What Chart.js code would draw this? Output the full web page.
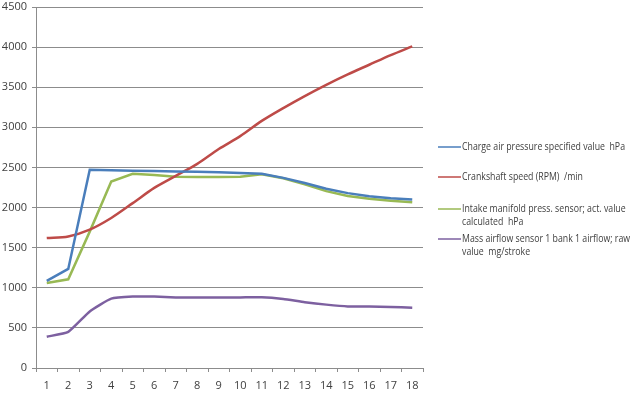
<!DOCTYPE html>
<html>
<head>
<meta charset="utf-8">
<script src="https://cdn.jsdelivr.net/npm/chart.js@4"></script>
<style>
    body { margin: 0; background: #fff; }
    #chart { display: block; }
</style>
</head>
<body>
<canvas id="chart" width="640" height="397"></canvas>
<script>
// chart data
const categories = ['1','2','3','4','5','6','7','8','9','10','11','12','13','14','15','16','17','18'];

const chargeAirSpecified = [1085, 1235, 2470, 2465, 2460, 2455, 2450, 2445, 2440, 2430, 2420, 2370, 2305, 2235, 2180, 2140, 2115, 2100];
const crankshaftSpeed = [1620, 1640, 1725, 1870, 2055, 2245, 2395, 2545, 2730, 2890, 3080, 3240, 3390, 3530, 3660, 3780, 3900, 4010];
const intakeManifold = [1060, 1105, 1700, 2325, 2420, 2405, 2385, 2380, 2380, 2385, 2415, 2365, 2290, 2205, 2145, 2110, 2085, 2065];
const massAirflow = [390, 450, 705, 865, 890, 890, 880, 880, 880, 880, 882, 860, 820, 790, 768, 768, 760, 752];

const yTicks = [0, 500, 1000, 1500, 2000, 2500, 3000, 3500, 4000, 4500];

const seriesLabels = [
    ['Charge air pressure specified value  hPa'],
    ['Crankshaft speed (RPM)  /min'],
    ['Intake manifold press. sensor; act. value', 'calculated  hPa'],
    ['Mass airflow sensor 1 bank 1 airflow; raw', 'value  mg/stroke']
];
const seriesColors = ['#4a7ebb', '#be4b48', '#98b954', '#7d60a0'];
const seriesTension = [0, 0.3, 0, 0.15];

const FAMILY = "'Open Sans', 'Liberation Sans', sans-serif";
const FONT = "11px " + FAMILY;
const TEXT_COLOR = '#404040';
const GRID_COLOR = '#8c8c8c';

// legend drawn on the right, Excel style with wrapped labels
const sideLegend = {
    id: 'sideLegend',
    afterDraw(chart) {
        const ctx = chart.ctx;
        const rowsY = [147, 177, 209, 239];
        ctx.save();
        ctx.font = FONT;
        ctx.textBaseline = 'middle';
        ctx.fillStyle = TEXT_COLOR;
        // squeeze text a bit, the original font is narrower
        const squeeze = 163 / ctx.measureText(chart.data.datasets[0].label[0]).width;
        chart.data.datasets.forEach((ds, i) => {
            const y = rowsY[i];
            ctx.strokeStyle = ds.borderColor;
            ctx.lineWidth = 1.5;
            ctx.beginPath();
            ctx.moveTo(438, y);
            ctx.lineTo(461, y);
            ctx.stroke();
            ds.label.forEach((line, j) => {
                const w = ctx.measureText(line).width * squeeze;
                ctx.fillText(line, 462, y + j * 13, w);
            });
        });
        ctx.restore();
    }
};

const ctx = document.getElementById('chart').getContext('2d');
new Chart(ctx, {
    type: 'line',
    data: {
        labels: categories,
        datasets: [chargeAirSpecified, crankshaftSpeed, intakeManifold, massAirflow].map((values, i) => ({
            label: seriesLabels[i],
            data: values,
            borderColor: seriesColors[i],
            backgroundColor: seriesColors[i],
            borderWidth: 2.5,
            pointRadius: 0,
            tension: seriesTension[i],
            fill: false
        }))
    },
    options: {
        responsive: false,
        animation: false,
        layout: { padding: { left: 0, right: 217, top: 0, bottom: 0 } },
        plugins: {
            legend: { display: false },
            tooltip: { enabled: false }
        },
        scales: {
            x: {
                offset: true,
                afterFit(scale) { scale.height = 29; },
                grid: {
                    offset: true,
                    drawOnChartArea: false,
                    drawTicks: true,
                    tickLength: 4,
                    color: GRID_COLOR
                },
                border: { display: true, color: GRID_COLOR },
                ticks: {
                    font: { family: FAMILY, size: 11 },
                    color: TEXT_COLOR,
                    padding: 7,
                    maxRotation: 0,
                    autoSkip: false
                }
            },
            y: {
                min: 0,
                max: 4500,
                afterFit(scale) {
                    scale.width = 36;
                    scale.paddingTop = 7;
                },
                afterBuildTicks(scale) { scale.ticks = yTicks.map(v => ({ value: v })); },
                grid: {
                    color: GRID_COLOR,
                    tickLength: 4
                },
                border: { display: true, color: GRID_COLOR },
                ticks: {
                    font: { family: FAMILY, size: 11 },
                    color: TEXT_COLOR,
                    padding: 5,
                    callback: v => String(v)
                }
            }
        }
    },
    plugins: [sideLegend]
});
</script>
</body>
</html>
